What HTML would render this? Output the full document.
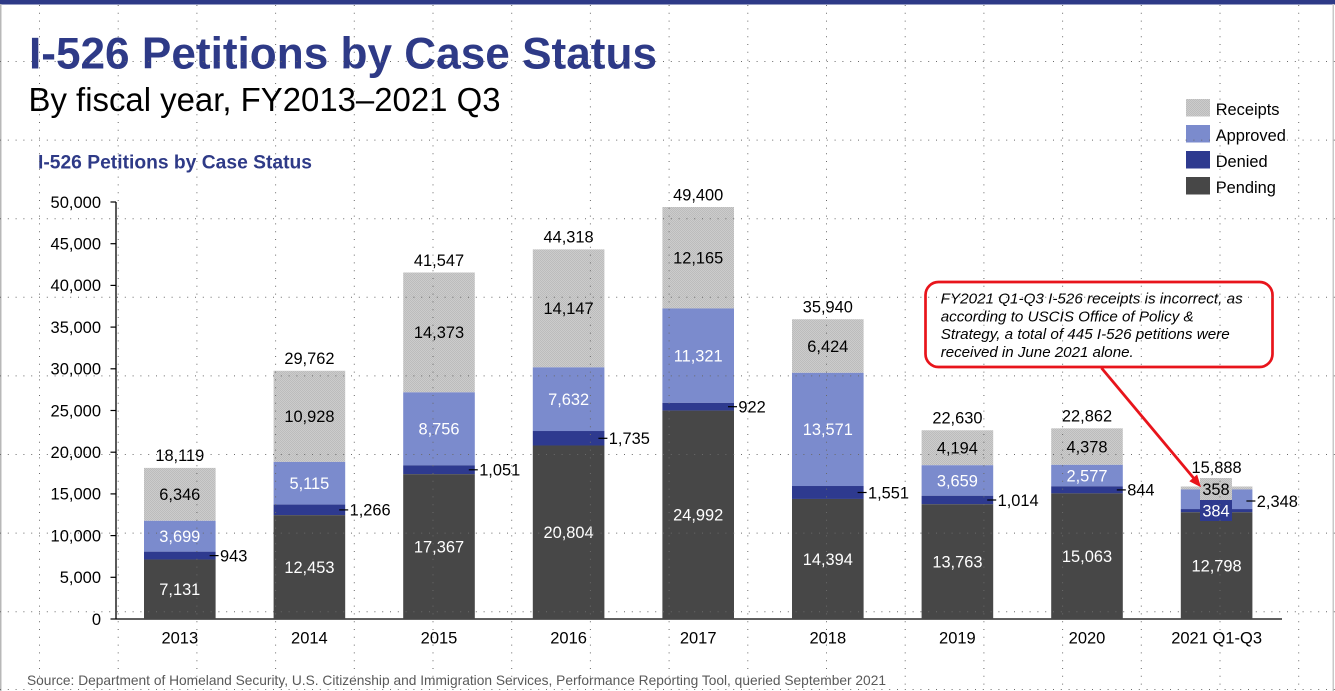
<!DOCTYPE html>
<html><head><meta charset="utf-8"><style>
html,body{margin:0;padding:0;background:#fff;}
svg{display:block;}
text{font-family:"Liberation Sans",Arial,sans-serif;}
</style></head><body>
<svg width="1335" height="691" viewBox="0 0 1335 691" xmlns="http://www.w3.org/2000/svg">
<defs>
<pattern id="rc" width="2" height="2" patternUnits="userSpaceOnUse">
<rect width="2" height="2" fill="#cccccc"/>
<rect x="0" y="0" width="1" height="1" fill="#bcbcbc"/>
<rect x="1" y="1" width="1" height="1" fill="#bcbcbc"/>
</pattern>
</defs>
<rect width="1335" height="691" fill="#fff"/>
<rect x="0" y="0" width="1335" height="4.5" fill="#2e3a87"/>
<rect x="0" y="4" width="1.5" height="687" fill="#b8b8b8"/>
<rect x="1332.5" y="4" width="1.5" height="687" fill="#c8c8c8"/>

<!-- Titles -->
<text x="29" y="68.3" font-size="44.5" font-weight="bold" fill="#2e3a87" textLength="628" lengthAdjust="spacingAndGlyphs">I-526 Petitions by Case Status</text>
<text x="28.5" y="111" font-size="33" fill="#000" textLength="472" lengthAdjust="spacingAndGlyphs">By fiscal year, FY2013–2021 Q3</text>
<text x="38" y="168.3" font-size="19" font-weight="bold" fill="#2e3a87" textLength="274" lengthAdjust="spacingAndGlyphs">I-526 Petitions by Case Status</text>

<!-- Legend -->
<rect x="1186" y="99" width="24" height="17.5" fill="url(#rc)"/>
<rect x="1186" y="125" width="24" height="17.5" fill="#7b8bcd"/>
<rect x="1186" y="151" width="24" height="17.5" fill="#2e3a8f"/>
<rect x="1186" y="177" width="24" height="17.5" fill="#474747"/>
<g font-size="16.4" fill="#000">
<text x="1215.7" y="115">Receipts</text>
<text x="1215.7" y="141">Approved</text>
<text x="1215.7" y="167">Denied</text>
<text x="1215.7" y="193">Pending</text>
</g>

<!-- Y axis -->
<line x1="116" y1="202" x2="116" y2="619" stroke="#000" stroke-width="1.3"/>
<line x1="116" y1="619" x2="1282" y2="619" stroke="#000" stroke-width="1.3"/>
<g stroke="#000" stroke-width="1.2">
<line x1="110.5" y1="619" x2="116" y2="619"/>
<line x1="110.5" y1="577.3" x2="116" y2="577.3"/>
<line x1="110.5" y1="535.6" x2="116" y2="535.6"/>
<line x1="110.5" y1="493.9" x2="116" y2="493.9"/>
<line x1="110.5" y1="452.2" x2="116" y2="452.2"/>
<line x1="110.5" y1="410.5" x2="116" y2="410.5"/>
<line x1="110.5" y1="368.8" x2="116" y2="368.8"/>
<line x1="110.5" y1="327.1" x2="116" y2="327.1"/>
<line x1="110.5" y1="285.4" x2="116" y2="285.4"/>
<line x1="110.5" y1="243.7" x2="116" y2="243.7"/>
<line x1="110.5" y1="202" x2="116" y2="202"/>
</g>
<g font-size="16.5" fill="#000" text-anchor="end">
<text x="101" y="624.8">0</text>
<text x="101" y="583.1">5,000</text>
<text x="101" y="541.4">10,000</text>
<text x="101" y="499.7">15,000</text>
<text x="101" y="458">20,000</text>
<text x="101" y="416.3">25,000</text>
<text x="101" y="374.6">30,000</text>
<text x="101" y="332.9">35,000</text>
<text x="101" y="291.2">40,000</text>
<text x="101" y="249.5">45,000</text>
<text x="101" y="207.8">50,000</text>
</g>

<!-- Bars -->
<g>
<!-- 2013 -->
<rect x="144.0" y="467.89" width="71.6" height="52.93" fill="url(#rc)"/>
<rect x="144.0" y="520.82" width="71.6" height="30.85" fill="#7b8bcd"/>
<rect x="144.0" y="551.67" width="71.6" height="7.86" fill="#2e3a8f"/>
<rect x="144.0" y="559.53" width="71.6" height="59.47" fill="#474747"/>
<!-- 2014 -->
<rect x="273.6" y="370.78" width="71.6" height="91.14" fill="url(#rc)"/>
<rect x="273.6" y="461.92" width="71.6" height="42.66" fill="#7b8bcd"/>
<rect x="273.6" y="504.58" width="71.6" height="10.56" fill="#2e3a8f"/>
<rect x="273.6" y="515.14" width="71.6" height="103.86" fill="#474747"/>
<!-- 2015 -->
<rect x="403.2" y="272.49" width="71.6" height="119.87" fill="url(#rc)"/>
<rect x="403.2" y="392.36" width="71.6" height="73.03" fill="#7b8bcd"/>
<rect x="403.2" y="465.39" width="71.6" height="8.77" fill="#2e3a8f"/>
<rect x="403.2" y="474.16" width="71.6" height="144.84" fill="#474747"/>
<!-- 2016 -->
<rect x="532.8" y="249.38" width="71.6" height="117.99" fill="url(#rc)"/>
<rect x="532.8" y="367.37" width="71.6" height="63.65" fill="#7b8bcd"/>
<rect x="532.8" y="431.02" width="71.6" height="14.47" fill="#2e3a8f"/>
<rect x="532.8" y="445.49" width="71.6" height="173.51" fill="#474747"/>
<!-- 2017 -->
<rect x="662.4" y="207.0" width="71.6" height="101.46" fill="url(#rc)"/>
<rect x="662.4" y="308.46" width="71.6" height="94.42" fill="#7b8bcd"/>
<rect x="662.4" y="402.88" width="71.6" height="7.69" fill="#2e3a8f"/>
<rect x="662.4" y="410.57" width="71.6" height="208.43" fill="#474747"/>
<!-- 2018 -->
<rect x="792.0" y="319.25" width="71.6" height="53.58" fill="url(#rc)"/>
<rect x="792.0" y="372.83" width="71.6" height="113.18" fill="#7b8bcd"/>
<rect x="792.0" y="486.01" width="71.6" height="12.94" fill="#2e3a8f"/>
<rect x="792.0" y="498.95" width="71.6" height="120.05" fill="#474747"/>
<!-- 2019 -->
<rect x="921.6" y="430.26" width="71.6" height="34.98" fill="url(#rc)"/>
<rect x="921.6" y="465.24" width="71.6" height="30.52" fill="#7b8bcd"/>
<rect x="921.6" y="495.76" width="71.6" height="8.46" fill="#2e3a8f"/>
<rect x="921.6" y="504.22" width="71.6" height="114.78" fill="#474747"/>
<!-- 2020 -->
<rect x="1051.2" y="428.33" width="71.6" height="36.51" fill="url(#rc)"/>
<rect x="1051.2" y="464.84" width="71.6" height="21.49" fill="#7b8bcd"/>
<rect x="1051.2" y="486.33" width="71.6" height="7.04" fill="#2e3a8f"/>
<rect x="1051.2" y="493.37" width="71.6" height="125.63" fill="#474747"/>
<!-- 2021 -->
<rect x="1180.8" y="486.49" width="71.6" height="2.99" fill="url(#rc)"/>
<rect x="1180.8" y="489.48" width="71.6" height="19.58" fill="#7b8bcd"/>
<rect x="1180.8" y="509.06" width="71.6" height="3.2" fill="#2e3a8f"/>
<rect x="1180.8" y="512.26" width="71.6" height="106.74" fill="#474747"/>
<rect x="1200" y="478" width="32" height="22" fill="url(#rc)"/>
<rect x="1200" y="500" width="32" height="21" fill="#2e3a8f"/>
</g>

<!-- Value labels -->
<g font-size="16.4" text-anchor="middle">
<g fill="#fff">
<text x="179.8" y="595.1">7,131</text>
<text x="309.4" y="572.9">12,453</text>
<text x="439.0" y="552.4">17,367</text>
<text x="568.6" y="538.0">20,804</text>
<text x="698.2" y="520.6">24,992</text>
<text x="827.8" y="564.8">14,394</text>
<text x="957.4" y="567.4">13,763</text>
<text x="1087.0" y="562.0">15,063</text>
<text x="1216.6" y="571.4">12,798</text>
<text x="179.8" y="542.0">3,699</text>
<text x="309.4" y="489.1">5,115</text>
<text x="439.0" y="434.7">8,756</text>
<text x="568.6" y="405.0">7,632</text>
<text x="698.2" y="361.5">11,321</text>
<text x="827.8" y="435.2">13,571</text>
<text x="957.4" y="486.3">3,659</text>
<text x="1087.0" y="481.4">2,577</text>
<text x="1216" y="516.3">384</text>
</g>
<g fill="#000">
<text x="179.8" y="500.2">6,346</text>
<text x="309.4" y="422.2">10,928</text>
<text x="439.0" y="338.2">14,373</text>
<text x="568.6" y="314.2">14,147</text>
<text x="698.2" y="263.5">12,165</text>
<text x="827.8" y="351.8">6,424</text>
<text x="957.4" y="453.6">4,194</text>
<text x="1087.0" y="452.4">4,378</text>
<text x="1216" y="494.8">358</text>
<text x="179.8" y="461.2">18,119</text>
<text x="309.4" y="364.1">29,762</text>
<text x="439.0" y="265.8">41,547</text>
<text x="568.6" y="242.7">44,318</text>
<text x="698.2" y="200.3">49,400</text>
<text x="827.8" y="312.6">35,940</text>
<text x="957.4" y="423.6">22,630</text>
<text x="1087.0" y="421.6">22,862</text>
<text x="1216.6" y="472.8">15,888</text>
</g>
</g>

<!-- Denied leaders + labels -->
<g stroke="#000" stroke-width="1.2">
<line x1="209.6" y1="555.6" x2="218.6" y2="555.6"/>
<line x1="339.2" y1="509.9" x2="348.2" y2="509.9"/>
<line x1="468.8" y1="469.8" x2="477.8" y2="469.8"/>
<line x1="598.4" y1="438.3" x2="607.4" y2="438.3"/>
<line x1="728.0" y1="406.7" x2="737.0" y2="406.7"/>
<line x1="857.6" y1="492.5" x2="866.6" y2="492.5"/>
<line x1="987.2" y1="500.0" x2="996.2" y2="500.0"/>
<line x1="1116.8" y1="489.9" x2="1125.8" y2="489.9"/>
<line x1="1246.4" y1="501" x2="1255.4" y2="501"/>
</g>
<g font-size="16.4" fill="#000">
<text x="220" y="561.4">943</text>
<text x="349.6" y="515.7">1,266</text>
<text x="479.2" y="475.6">1,051</text>
<text x="608.8" y="444.1">1,735</text>
<text x="738.4" y="412.5">922</text>
<text x="868.0" y="498.3">1,551</text>
<text x="997.6" y="505.8">1,014</text>
<text x="1127.2" y="495.7">844</text>
<text x="1256.8" y="506.8">2,348</text>
</g>

<!-- X labels -->
<g font-size="16.5" fill="#000" text-anchor="middle">
<text x="179.8" y="643.3">2013</text>
<text x="309.4" y="643.3">2014</text>
<text x="439.0" y="643.3">2015</text>
<text x="568.6" y="643.3">2016</text>
<text x="698.2" y="643.3">2017</text>
<text x="827.8" y="643.3">2018</text>
<text x="957.4" y="643.3">2019</text>
<text x="1087.0" y="643.3">2020</text>
<text x="1216.6" y="643.3">2021 Q1-Q3</text>
</g>

<!-- Annotation -->
<rect x="925.5" y="282" width="347" height="85" rx="13" ry="13" fill="#fff" stroke="#e8141b" stroke-width="2.7"/>
<g font-size="15.2" font-style="italic" fill="#000">
<text x="940.7" y="303.5" textLength="302" lengthAdjust="spacingAndGlyphs">FY2021 Q1-Q3 I-526 receipts is incorrect, as</text>
<text x="940.7" y="321.3" textLength="253" lengthAdjust="spacingAndGlyphs">according to USCIS Office of Policy &amp;</text>
<text x="940.7" y="339.1" textLength="289" lengthAdjust="spacingAndGlyphs">Strategy, a total of 445 I-526 petitions were</text>
<text x="940.7" y="356.9" textLength="193" lengthAdjust="spacingAndGlyphs">received in June 2021 alone.</text>
</g>
<line x1="1101.5" y1="368" x2="1194" y2="478.5" stroke="#e8141b" stroke-width="2.8"/>
<polygon points="1201,487.3 1189.3,481.2 1197.1,474.5" fill="#e8141b"/>

<!-- Source -->
<text x="27" y="685" font-size="13.7" fill="#595959" textLength="859" lengthAdjust="spacingAndGlyphs">Source: Department of Homeland Security, U.S. Citizenship and Immigration Services, Performance Reporting Tool, queried September 2021</text>

<!-- Dotted guide grid -->
<g stroke="#6a6a6a" stroke-width="1" stroke-dasharray="1 6.8" fill="none">
<line x1="0" y1="61.5" x2="1335" y2="61.5"/>
<line x1="0" y1="140.1" x2="1335" y2="140.1"/>
<line x1="0" y1="218.7" x2="1335" y2="218.7"/>
<line x1="0" y1="297.3" x2="1335" y2="297.3"/>
<line x1="0" y1="375.9" x2="1335" y2="375.9"/>
<line x1="0" y1="454.5" x2="1335" y2="454.5"/>
<line x1="0" y1="533.1" x2="1335" y2="533.1"/>
<line x1="0" y1="611.7" x2="1335" y2="611.7"/>
<line x1="0" y1="689.5" x2="1335" y2="689.5"/>
<line x1="39.5" y1="5" x2="39.5" y2="691"/>
<line x1="118.2" y1="5" x2="118.2" y2="691"/>
<line x1="196.9" y1="5" x2="196.9" y2="691"/>
<line x1="275.6" y1="5" x2="275.6" y2="691"/>
<line x1="354.3" y1="5" x2="354.3" y2="691"/>
<line x1="433.0" y1="5" x2="433.0" y2="691"/>
<line x1="511.7" y1="5" x2="511.7" y2="691"/>
<line x1="590.4" y1="5" x2="590.4" y2="691"/>
<line x1="669.1" y1="5" x2="669.1" y2="691"/>
<line x1="747.8" y1="5" x2="747.8" y2="691"/>
<line x1="826.5" y1="5" x2="826.5" y2="691"/>
<line x1="905.2" y1="5" x2="905.2" y2="691"/>
<line x1="983.9" y1="5" x2="983.9" y2="691"/>
<line x1="1062.6" y1="5" x2="1062.6" y2="691"/>
<line x1="1141.3" y1="5" x2="1141.3" y2="691"/>
<line x1="1220.0" y1="5" x2="1220.0" y2="691"/>
<line x1="1298.7" y1="5" x2="1298.7" y2="691"/>
</g>
</svg>
</body></html>
